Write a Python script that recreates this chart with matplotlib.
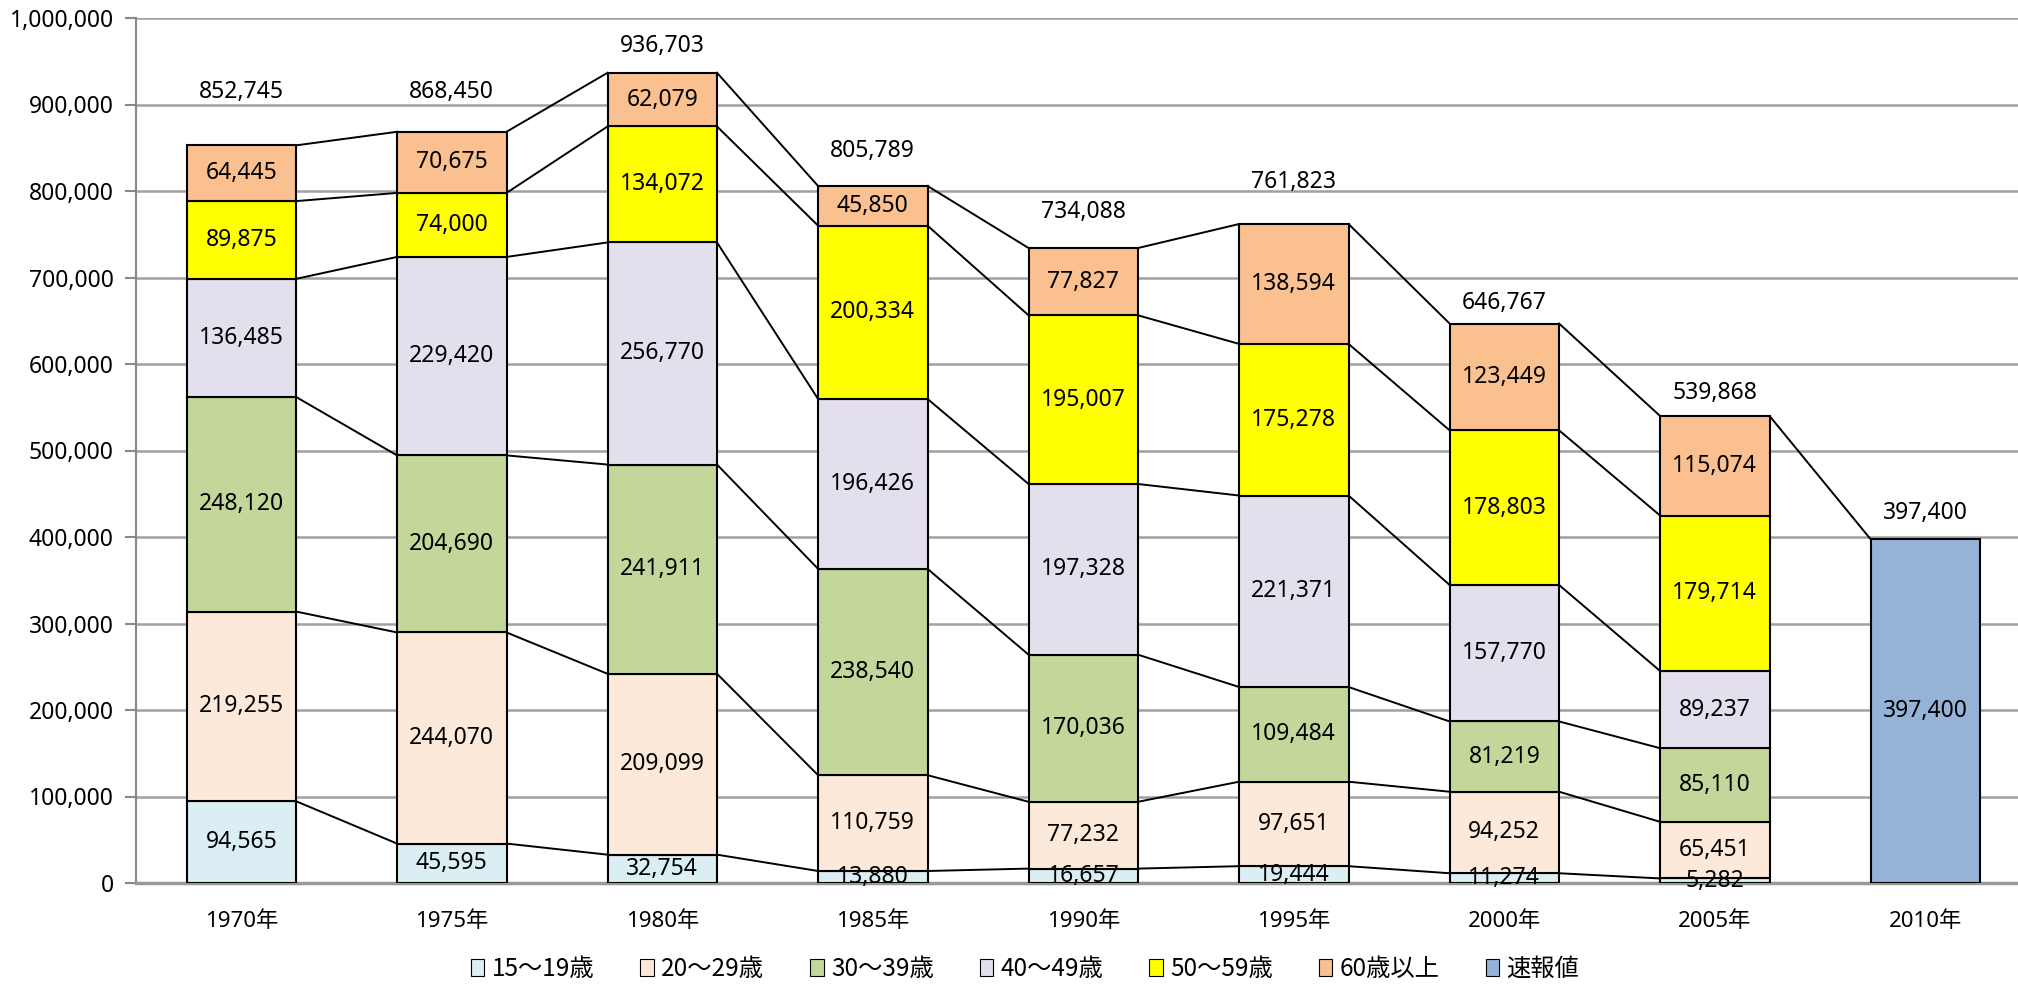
import numpy as np
import matplotlib
matplotlib.use("Agg")
import matplotlib.pyplot as plt
from matplotlib.patches import Patch

plt.rcParams['font.family'] = ['Noto Sans', 'Noto Sans CJK JP', 'DejaVu Sans']

# 年齢階級別の人数（5年ごと）
years = ['1970年', '1975年', '1980年', '1985年', '1990年', '1995年', '2000年', '2005年', '2010年']
age_15_19 = [94565, 45595, 32754, 13880, 16657, 19444, 11274, 5282]
age_20_29 = [219255, 244070, 209099, 110759, 77232, 97651, 94252, 65451]
age_30_39 = [248120, 204690, 241911, 238540, 170036, 109484, 81219, 85110]
age_40_49 = [136485, 229420, 256770, 196426, 197328, 221371, 157770, 89237]
age_50_59 = [89875, 74000, 134072, 200334, 195007, 175278, 178803, 179714]
age_60_up = [64445, 70675, 62079, 45850, 77827, 138594, 123449, 115074]
totals = [852745, 868450, 936703, 805789, 734088, 761823, 646767, 539868, 397400]
preliminary = 397400  # 2010年 速報値

series_names = ['15〜19歳', '20〜29歳', '30〜39歳', '40〜49歳', '50〜59歳', '60歳以上']
series = [age_15_19, age_20_29, age_30_39, age_40_49, age_50_59, age_60_up]
colors = ['#DAEEF3', '#FDE9D9', '#C4D79B', '#E4DFEC', '#FFFF00', '#FAC090']
prelim_color = '#95B3D7'

# 合計ラベルを棒の上にずらす量（ピクセル）
total_offsets = [53, 40, 27, 35, 36, 42, 21, 23, 26]

fig = plt.figure(figsize=(20.18, 9.84), dpi=100)
ax = fig.add_axes([136 / 2018, 1 - 883 / 984, 1 - 136 / 2018, (883 - 18) / 984])

width = 0.52
x = np.arange(len(years))
n = len(age_15_19)
bottom = np.zeros(n)
tops = []
for vals, col in zip(series, colors):
    vals = np.array(vals, dtype=float)
    ax.bar(x[:n], vals, width, bottom=bottom, color=col, edgecolor='black',
           linewidth=1.5, zorder=3)
    for xi, b, v in zip(x[:n], bottom, vals):
        ax.text(xi, b + v / 2, f'{int(v):,}', ha='center', va='center',
                fontsize=16.5, color='black', zorder=5)
    bottom = bottom + vals
    tops.append(bottom.copy())

# 2010年は速報値のみ
ax.bar(x[-1], preliminary, width, color=prelim_color, edgecolor='black',
       linewidth=1.5, zorder=3)
ax.text(x[-1], preliminary / 2, f'{preliminary:,}', ha='center', va='center',
        fontsize=16.5, zorder=5)

# 区分線（隣り合う棒の各系列上端を結ぶ）
for top in tops:
    for i in range(n - 1):
        ax.plot([x[i] + width / 2, x[i + 1] - width / 2], [top[i], top[i + 1]],
                color='black', linewidth=1.4, zorder=2)
ax.plot([x[n - 1] + width / 2, x[-1] - width / 2], [tops[-1][-1], preliminary],
        color='black', linewidth=1.4, zorder=2)

# 合計ラベル
bar_tops = list(tops[-1]) + [preliminary]
for xi, t, lab, off in zip(x, bar_tops, totals, total_offsets):
    ax.annotate(f'{lab:,}', (xi, t), xytext=(0, off), textcoords='offset pixels',
                ha='center', va='center', fontsize=16.5, zorder=5)

ax.set_xlim(-0.5, 8.44)
ax.set_ylim(0, 1000000)
ax.set_yticks(np.arange(0, 1000001, 100000))
ax.yaxis.set_major_formatter(matplotlib.ticker.FuncFormatter(lambda v, p: f'{int(v):,}'))
ax.set_xticks(x)
ax.set_xticklabels(years)
ax.tick_params(axis='y', labelsize=16.5, length=8, width=1.5, color='#888888', pad=8)
ax.tick_params(axis='x', labelsize=16, length=0, pad=20)
ax.grid(axis='y', color='#A0A0A0', linewidth=1.8, zorder=0)
ax.set_axisbelow(True)
for s in ['top', 'right']:
    ax.spines[s].set_visible(False)
ax.spines['left'].set_color('#888888')
ax.spines['left'].set_linewidth(1.5)
ax.spines['bottom'].set_color('#999999')
ax.spines['bottom'].set_linewidth(2.5)

handles = [Patch(facecolor=c, edgecolor='black', linewidth=0.8) for c in colors]
handles.append(Patch(facecolor=prelim_color, edgecolor='black', linewidth=0.8))
fig.legend(handles, series_names + ['速報値'], loc='center', bbox_to_anchor=(1025 / 2018, 1 - 969 / 984),
           ncol=7, frameon=False, handlelength=0.55, handleheight=0.7,
           handletextpad=0.3, columnspacing=1.9, prop={'family': ['Noto Sans CJK JP'], 'size': 17.5})

fig.savefig('out.png', dpi=100)
